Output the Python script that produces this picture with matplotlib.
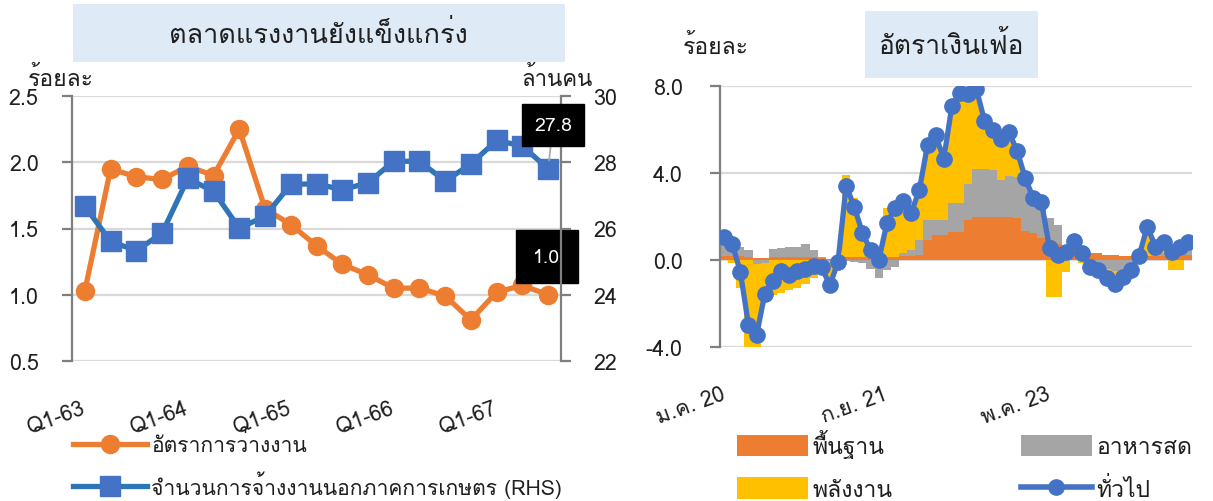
import matplotlib
matplotlib.use("Agg")
import matplotlib.pyplot as plt
import numpy as np
from matplotlib.lines import Line2D
from matplotlib.patches import Patch, Rectangle

plt.rcParams['font.family'] = ['Loma', 'DejaVu Sans']

# ---------------- data: left chart (quarterly) ----------------
quarters = ["Q1-63", "Q2-63", "Q3-63", "Q4-63", "Q1-64", "Q2-64", "Q3-64", "Q4-64",
            "Q1-65", "Q2-65", "Q3-65", "Q4-65", "Q1-66", "Q2-66", "Q3-66", "Q4-66",
            "Q1-67", "Q2-67", "Q3-67"]
unemployment = [1.03, 1.95, 1.89, 1.87, 1.97, 1.90, 2.25, 1.65, 1.53, 1.37,
                1.23, 1.15, 1.05, 1.05, 0.99, 0.81, 1.02, 1.07, 1.00]
nonfarm_employment = [26.67, 25.61, 25.33, 25.86, 27.51, 27.12, 26.01, 26.37, 27.33, 27.35,
                      27.17, 27.38, 28.03, 28.03, 27.43, 27.95, 28.66, 28.49, 27.80]
left_tick_labels = ["Q1-63", "Q1-64", "Q1-65", "Q1-66", "Q1-67"]

# ---------------- data: right chart (monthly, Jan 2020 - Oct 2024) ----------------
headline = [1.05, 0.74, -0.54, -2.99, -3.44, -1.57, -0.98, -0.50, -0.70, -0.50, -0.41, -0.27,
            -0.34, -1.17, -0.08, 3.41, 2.44, 1.25, 0.45, -0.02, 1.68, 2.38, 2.71, 2.17,
            3.23, 5.28, 5.73, 4.65, 7.10, 7.66, 7.61, 7.86, 6.41, 5.98, 5.55, 5.89,
            5.02, 3.79, 2.83, 2.67, 0.53, 0.23, 0.38, 0.88, 0.30, -0.31, -0.44, -0.83,
            -1.11, -0.77, -0.47, 0.19, 1.54, 0.62, 0.83, 0.35, 0.61, 0.83]
core = [0.20, 0.20, 0.20, 0.15, 0.10, 0.10, 0.15, 0.15, 0.15, 0.15, 0.15, 0.15,
        0.10, 0.05, 0.10, 0.15, 0.15, 0.15, 0.10, 0.10, 0.15, 0.15, 0.20, 0.20,
        0.25, 0.90, 1.15, 1.15, 1.30, 1.30, 1.85, 2.00, 2.00, 2.00, 2.00, 2.00,
        1.95, 1.35, 1.25, 1.00, 0.90, 0.75, 0.60, 0.50, 0.40, 0.30, 0.30, 0.25,
        0.25, 0.20, 0.20, 0.20, 0.20, 0.20, 0.20, 0.20, 0.20, 0.25]
fresh_food = [0.65, 0.55, 0.40, 0.30, -0.20, -0.15, 0.35, 0.40, 0.45, 0.45, 0.60, 0.30,
              0.05, -0.05, 0.05, -0.05, -0.10, -0.15, -0.40, -0.85, -0.45, -0.30, 0.10, 0.25,
              0.65, 0.95, 0.70, 0.70, 1.30, 1.30, 1.65, 2.20, 2.20, 2.15, 1.70, 1.85,
              1.85, 2.30, 1.90, 1.80, 1.05, 0.85, 0.05, 0.30, 0.00, -0.10, -0.20, -0.40,
              -0.50, -0.45, -0.30, -0.10, 0.00, 0.10, 0.10, 0.10, 0.10, 0.20]
energy = [0.15, -0.15, -1.30, -4.10, -3.90, -1.70, -1.60, -1.50, -1.40, -1.30, -1.10, -0.85,
          -0.50, -1.10, -0.20, 3.75, 2.70, 1.25, 0.50, 0.40, 2.25, 2.55, 2.50, 2.00,
          2.30, 3.25, 3.75, 2.85, 4.40, 5.00, 4.10, 3.50, 2.20, 1.80, 1.75, 1.70,
          1.00, 0.20, 0.00, 0.00, -1.70, -1.70, -0.55, 0.00, -0.15, -0.55, -0.55, -0.70,
          -0.85, -0.55, -0.40, 0.05, 1.20, 0.30, 0.50, -0.45, -0.45, 0.30]
right_tick_pos = [0, 20, 40]
right_tick_labels = ["ม.ค. 20", "ก.ย. 21", "พ.ค. 23"]

ORANGE = "#ED7D31"
GRAY = "#A5A5A5"
YELLOW = "#FFC000"
BLUE = "#4472C4"
BLUE_LINE = "#2E75B6"
SPINE = "#7F7F7F"
GRID = "#D9D9D9"
TXT = "#1F1F1F"

W, H = 1213, 502
fig = plt.figure(figsize=(W / 100, H / 100), dpi=100)


def fx(px):
    return px / W


def fy(py):
    return 1 - py / H


def style_axis(ax):
    for s in ax.spines.values():
        s.set_visible(False)
    ax.tick_params(colors=TXT, labelsize=15.5)


# ---------------- left chart ----------------
ax1 = fig.add_axes([fx(72), fy(362), fx(561) - fx(72), fy(97) - fy(362)])
ax2 = ax1.twinx()
style_axis(ax1)
style_axis(ax2)
ax1.spines['left'].set_visible(True)
ax1.spines['left'].set_color(SPINE)
ax1.spines['left'].set_linewidth(1.6)
ax2.spines['right'].set_visible(True)
ax2.spines['right'].set_color(SPINE)
ax2.spines['right'].set_linewidth(1.6)

x = np.arange(len(quarters))
ax1.set_xlim(-0.5, len(quarters) - 0.5)
ax1.set_ylim(0.5, 2.5)
ax1.set_yticks([0.5, 1.0, 1.5, 2.0, 2.5])
ax1.set_yticklabels(["%.1f" % v for v in [0.5, 1.0, 1.5, 2.0, 2.5]])
ax2.set_ylim(22, 30)
ax2.set_yticks([22, 24, 26, 28, 30])
ax1.yaxis.grid(True, color=GRID, lw=1.6)
ax1.set_axisbelow(True)
ax1.tick_params(axis='y', length=7, width=1.6, color=SPINE, pad=17)
ax2.tick_params(axis='y', length=7, width=1.6, color=SPINE, pad=16)

ax1.plot(x, unemployment, color=ORANGE, lw=3.8, marker='o', ms=13,
         mfc=ORANGE, mec=ORANGE, zorder=3)
ax2.plot(x, nonfarm_employment, color=BLUE_LINE, lw=3.8, marker='s', ms=14,
         mfc=BLUE, mec=BLUE, zorder=3)

ax1.set_xticks([quarters.index(q) for q in left_tick_labels])
ax1.set_xticklabels(left_tick_labels, rotation=20, ha='right', va='center',
                    rotation_mode='anchor')
ax1.tick_params(axis='x', length=0, pad=33, labelsize=15.5)

# data labels
last = len(quarters) - 1
ax2.annotate("%.1f" % nonfarm_employment[-1], xy=(last, nonfarm_employment[-1]),
             xytext=(3.5, 31.5), textcoords='offset points', ha='center', va='center',
             color='white', fontsize=14,
             bbox=dict(boxstyle='square,pad=0.62', fc='black', ec='black'),
             arrowprops=dict(arrowstyle='-', color='#A6A6A6', lw=1.2, shrinkA=0, shrinkB=6),
             zorder=6, annotation_clip=False)
ax1.annotate("%.1f" % unemployment[-1], xy=(last, unemployment[-1]),
             xytext=(-1, 27.5), textcoords='offset points', ha='center', va='center',
             color='white', fontsize=14,
             bbox=dict(boxstyle='square,pad=0.9', fc='black', ec='black'),
             zorder=6, annotation_clip=False)

# title box left
fig.patches.append(Rectangle((fx(73), fy(63)), fx(565) - fx(73), fy(5) - fy(63),
                             transform=fig.transFigure, fc="#DEEBF7", ec='none'))
fig.text(fx(318), fy(34), "ตลาดแรงงานยังแข็งแกร่ง", ha='center', va='center',
         fontsize=19.5, color=TXT)
fig.text(fx(28), fy(79), "ร้อยละ", ha='left', va='center', fontsize=16.5, color=TXT)
fig.text(fx(593), fy(79), "ล้านคน", ha='right', va='center', fontsize=16, color=TXT)

lh = [Line2D([], [], color=ORANGE, lw=3.8, marker='o', ms=13, mfc=ORANGE, mec=ORANGE),
      Line2D([], [], color=BLUE_LINE, lw=3.8, marker='s', ms=14, mfc=BLUE, mec=BLUE)]
fig.legend(lh, ["อัตราการว่างงาน", "จำนวนการจ้างงานนอกภาคการเกษตร (RHS)"],
           loc='upper left', bbox_to_anchor=(fx(73), fy(434)), frameon=False,
           fontsize=15.2, handlelength=3.5, handletextpad=0.2, labelspacing=0.72,
           borderpad=0, borderaxespad=0, labelcolor=TXT)

# ---------------- right chart ----------------
ax3 = fig.add_axes([fx(720), fy(348), fx(1192) - fx(720), fy(87) - fy(348)])
style_axis(ax3)
ax3.spines['left'].set_visible(True)
ax3.spines['left'].set_color(SPINE)
ax3.spines['left'].set_linewidth(1.6)
n = len(headline)
xm = np.arange(n)
ax3.set_xlim(-0.5, n - 0.5)
ax3.set_ylim(-4, 8)
ax3.set_yticks([-4, 0, 4, 8])
ax3.set_yticklabels(["%.1f" % v for v in [-4, 0, 4, 8]])
ax3.yaxis.grid(True, color=GRID, lw=1.6)
ax3.set_axisbelow(True)
ax3.tick_params(axis='y', length=7, width=1.6, color=SPINE, pad=20)

pos_bottom = np.zeros(n)
neg_bottom = np.zeros(n)
for vals, col in [(core, ORANGE), (fresh_food, GRAY), (energy, YELLOW)]:
    v = np.array(vals)
    b = np.where(v >= 0, pos_bottom, neg_bottom)
    ax3.bar(xm, v, bottom=b, width=1.0, color=col, linewidth=0, zorder=2)
    pos_bottom = pos_bottom + np.where(v >= 0, v, 0)
    neg_bottom = neg_bottom + np.where(v < 0, v, 0)

ax3.plot(xm, headline, color=BLUE, lw=3.8, marker='o', ms=11, mfc=BLUE, mec=BLUE, zorder=4)
ax3.set_xticks(right_tick_pos)
ax3.set_xticklabels(right_tick_labels, rotation=20, ha='right', va='center',
                    rotation_mode='anchor')
ax3.tick_params(axis='x', length=0, pad=33, labelsize=15.5)

fig.patches.append(Rectangle((fx(865), fy(79)), fx(1038) - fx(865), fy(12) - fy(79),
                             transform=fig.transFigure, fc="#DEEBF7", ec='none'))
fig.text(fx(951), fy(45), "อัตราเงินเฟ้อ", ha='center', va='center', fontsize=19, color=TXT)
fig.text(fx(683), fy(47), "ร้อยละ", ha='left', va='center', fontsize=16.5, color=TXT)

rh = [Patch(fc=ORANGE, ec='none'), Patch(fc=YELLOW, ec='none'),
      Patch(fc=GRAY, ec='none'),
      Line2D([], [], color=BLUE, lw=4, marker='o', ms=11, mfc=BLUE, mec=BLUE)]
fig.legend(rh, ["พื้นฐาน", "พลังงาน", "อาหารสด", "ทั่วไป"], ncol=2,
           loc='upper left', bbox_to_anchor=(fx(737), fy(430)), frameon=False,
           fontsize=16.5, handlelength=3.1, handleheight=1.05, handletextpad=0.2,
           labelspacing=0.85, columnspacing=5.6, borderpad=0, borderaxespad=0,
           labelcolor=TXT)

fig.savefig("out.png", dpi=100)
